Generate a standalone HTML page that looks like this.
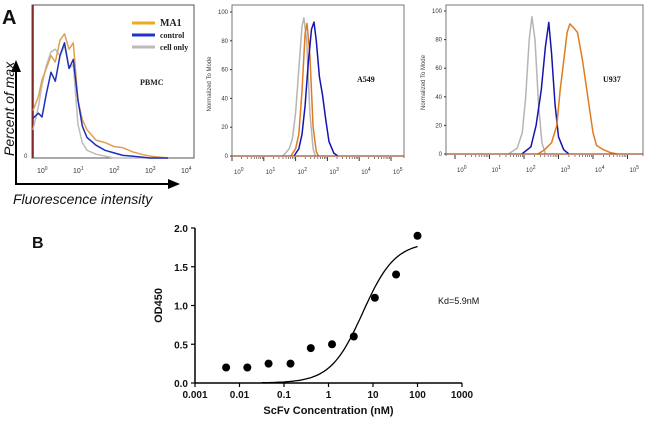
<!DOCTYPE html>
<html><head><meta charset="utf-8">
<style>
html,body{margin:0;padding:0;background:#fff;}
svg{display:block;font-family:"Liberation Sans",sans-serif;}
</style></head>
<body>
<svg id="fig" width="650" height="422" viewBox="0 0 650 422">
</svg>
<script>
// ---- Panel A data: PBMC (log10 intensity grid, percent of max) ----
const pbmcLogs = [-0.25,-0.1,0,0.12,0.25,0.37,0.5,0.625,0.75,0.87,1.0,1.12,1.25,1.5,1.75,2.0,2.25,2.5,2.75,3.0,3.5];
const pbmcMA1 = [37,48,61,70,80,75,92,97,85,90,45,30,22,14,12,9,8,5,3,1.5,0];
const pbmcControl = [31,35,32,50,67,60,80,90,70,77,45,25,16,10,6,4,2,1.5,0.8,0,0];
const pbmcCellOnly = [22,40,57,72,83,85,80,88,70,73,26,12,6,3,1.5,0,0,0,0,0,0];
// ---- A549 ----
const a549GrayLogs = [1.6,1.8,1.9,2.0,2.1,2.2,2.26,2.35,2.45,2.55,2.62];
const a549Gray = [0,5,12,30,60,90,96,80,30,5,0];
const a549OrangeLogs = [1.85,2.0,2.1,2.2,2.3,2.36,2.45,2.55,2.65,2.72];
const a549Orange = [0,5,15,45,85,92,70,20,3,0];
const a549BlueLogs = [1.95,2.1,2.2,2.3,2.4,2.5,2.58,2.65,2.75,2.85,2.95,3.05,3.2,3.33];
const a549Blue = [0,5,15,35,65,88,93,80,55,42,25,10,2,0];
// ---- U937 ----
const u937GrayLogs = [1.55,1.8,1.95,2.05,2.15,2.23,2.32,2.42,2.52,2.62];
const u937Gray = [0,4,15,40,80,96,80,35,8,0];
const u937BlueLogs = [1.94,2.2,2.35,2.5,2.62,2.72,2.8,2.9,3.0,3.15,3.3];
const u937Blue = [0,5,20,45,75,92,70,35,12,3,0];
const u937OrangeLogs = [2.4,2.6,2.8,2.95,3.05,3.15,3.25,3.33,3.45,3.55,3.7,3.85,4.0,4.1,4.3,4.5,4.7];
const u937Orange = [0,3,8,20,45,65,85,91,88,85,65,40,15,6,3,1,0];
const facsTickExps = [0,1,2,3,4,5];
const normTicks = [0,20,40,60,80,100];
// ---- Panel B data ----
const concNM = [0.005,0.015,0.045,0.14,0.4,1.2,3.7,11,33,100];
const od450 = [0.2,0.2,0.25,0.25,0.45,0.5,0.6,1.1,1.4,1.9];
const odTicks = [0.0,0.5,1.0,1.5,2.0];
const concTickLabels = ["0.001","0.01","0.1","1","10","100","1000"];
const kdNM = 5.9, bmax = 1.82, hill = 1.2;

const NS="http://www.w3.org/2000/svg";
const svg=document.getElementById('fig');
function el(tag,attrs,parent,text){const e=document.createElementNS(NS,tag);for(const k in attrs)e.setAttribute(k,attrs[k]);if(text!==undefined)e.textContent=text;(parent||svg).appendChild(e);return e;}

function drawSeries(logs,vals,sx,sy,color,name,g){
  const pts=logs.map((l,i)=>sx(l).toFixed(1)+','+sy(vals[i]).toFixed(1)).join(' ');
  const p=el('polyline',{points:pts,fill:'none',stroke:color,'stroke-width':1.5,'stroke-linejoin':'round'},g);
  
  
}

// ===== PBMC panel =====
(function(){
  const g=el('g',{});
  const sx=l=>42+l*36, sy=v=>158-v*1.28;
  el('rect',{x:32,y:5,width:162,height:153,fill:'none',stroke:'#555','stroke-width':1},g);
  el('line',{x1:33,y1:5,x2:33,y2:158,stroke:'#8b1a1a','stroke-width':1.5},g);
  el('text',{x:24,y:158,'font-size':6,fill:'#333'},g,'0');
  [0,1,2,3,4].forEach(e=>{const t=el('text',{x:sx(e)-5,y:173,'font-size':7,fill:'#333'},g,'10');el('tspan',{dy:-3,'font-size':5},t,String(e));});
  drawSeries(pbmcLogs,pbmcCellOnly,sx,sy,'#bdbdbd','cell-only-curve',g);
  drawSeries(pbmcLogs,pbmcMA1,sx,sy,'#e0a050','ma1-curve',g);
  drawSeries(pbmcLogs,pbmcControl,sx,sy,'#1f2fb8','control-curve',g);
  const leg=[['#f2a81e','MA1',24],['#2233cc','control',36],['#bbbbbb','cell only',48]];
  leg.forEach(([c,t,y])=>{el('line',{x1:132,y1:y-1,x2:155,y2:y-1,stroke:c,'stroke-width':3},g);const tx=el('text',{x:160,y:y+2,'font-size':t==='MA1'?10:8,'font-weight':'bold','font-family':'Liberation Serif,serif',fill:'#222'},g,t);});
  el('text',{x:140,y:85,'font-size':8,'font-weight':'bold','font-family':'Liberation Serif,serif',fill:'#222'},g,'PBMC');
  el('line',{x1:16,y1:184,x2:16,y2:70,stroke:'#000','stroke-width':2},g);
  el('polygon',{points:'16,60 11,72 21,72',fill:'#000'},g);
  el('line',{x1:15,y1:184,x2:170,y2:184,stroke:'#000','stroke-width':2},g);
  el('polygon',{points:'180,184 168,179 168,189',fill:'#000'},g);
  const yl=el('text',{x:0,y:0,'font-size':14,'font-style':'italic',fill:'#111',transform:'translate(14,156) rotate(-90)'},g,'Percent of max');
  const xl=el('text',{x:13,y:204,'font-size':14,'font-style':'italic',fill:'#111'},g,'Fluorescence intensity');
  el('text',{x:2,y:24,'font-size':20,'font-weight':'bold',fill:'#111'},g,'A');
})();

function facsPanel(name,x0,x1,y0,y100,dec,zeroX,label,lx,series){
  const g=el('g',{});
  const sx=l=>zeroX+l*dec, sy=v=>y0-(v/100)*(y0-y100);
  el('polyline',{points:`${x0},${y0+2} ${x0},5 ${x1},5 ${x1},${y0+2}`,fill:'none',stroke:'#777','stroke-width':1},g);
  normTicks.forEach(v=>{el('text',{x:x0-4,y:sy(v)+2,'font-size':6,'text-anchor':'end',fill:'#333'},g,String(v));el('line',{x1:x0-2,y1:sy(v),x2:x0,y2:sy(v),stroke:'#333'},g);});
  el('text',{x:0,y:0,'font-size':6,fill:'#444','text-anchor':'middle',transform:`translate(${x0-21},${(y0+y100)/2}) rotate(-90)`},g,'Normalized To Mode');
  facsTickExps.forEach(e=>{const x=sx(e);el('line',{x1:x,y1:y0+1,x2:x,y2:y0+5,stroke:'#333'},g);
    for(let k=2;k<10&&e<5;k++){const xm=sx(e+Math.log10(k));el('line',{x1:xm,y1:y0+1,x2:xm,y2:y0+3,stroke:'#333','stroke-width':0.6},g);}
    const t=el('text',{x:x+2,y:y0+18,'font-size':6,fill:'#333'},g,'10');el('tspan',{dy:-3,'font-size':5},t,String(e));});
  series.forEach(s=>drawSeries(s[0],s[1],sx,sy,s[2],s[3],g));
  el('line',{x1:x0,y1:y0,x2:x1,y2:y0,stroke:'#a0522d','stroke-width':1.2},g);
  el('text',{x:lx,y:82,'font-size':8,'font-weight':'bold','font-family':'Liberation Serif,serif',fill:'#111'},g,label);
}
facsPanel('a549-panel',232,404,156,12,31.8,232,'A549',357,[
  [a549GrayLogs,a549Gray,'#b5b5b5','a549-cell-only-curve'],
  [a549OrangeLogs,a549Orange,'#e07b20','a549-ma1-curve'],
  [a549BlueLogs,a549Blue,'#1414b0','a549-control-curve']]);
facsPanel('u937-panel',446,643,154,11,34.5,455,'U937',603,[
  [u937GrayLogs,u937Gray,'#b5b5b5','u937-cell-only-curve'],
  [u937BlueLogs,u937Blue,'#1414b0','u937-control-curve'],
  [u937OrangeLogs,u937Orange,'#e07b20','u937-ma1-curve']]);

// ===== Panel B =====
(function(){
  const g=el('g',{});
  const xL=195,xR=462,yB=383,yT=228;
  const sx=c=>xL+(Math.log10(c)+3)/6*(xR-xL), sy=v=>yB-v/2*(yB-yT);
  el('text',{x:32,y:248,'font-size':16,'font-weight':'bold',fill:'#111'},g,'B');
  el('line',{x1:xL,y1:yB,x2:xL,y2:yT,stroke:'#000','stroke-width':1.5},g);
  el('line',{x1:xL,y1:yB,x2:xR,y2:yB,stroke:'#000','stroke-width':1.5},g);
  odTicks.forEach(v=>{el('line',{x1:xL-4,y1:sy(v),x2:xL,y2:sy(v),stroke:'#000','stroke-width':1.2},g);
    el('text',{x:xL-7,y:sy(v)+4,'font-size':10,'font-weight':'bold','text-anchor':'end',fill:'#111'},g,v.toFixed(1));});
  concTickLabels.forEach((t,i)=>{const x=xL+i*(xR-xL)/6;el('line',{x1:x,y1:yB,x2:x,y2:yB+4,stroke:'#000','stroke-width':1.2},g);
    el('text',{x:x,y:yB+15,'font-size':10,'font-weight':'bold','text-anchor':'middle',fill:'#111'},g,t);});
  const yt=el('text',{x:0,y:0,'font-size':11,'font-weight':'bold','text-anchor':'middle',fill:'#111',transform:`translate(162,${(yB+yT)/2}) rotate(-90)`},g,'OD450');
  
  const xt=el('text',{x:(xL+xR)/2,y:414,'font-size':11,'font-weight':'bold','text-anchor':'middle',fill:'#111'},g,'ScFv Concentration (nM)');
  
  let pts=[];for(let l=-1.5;l<=2.001;l+=0.05){const c=Math.pow(10,l);pts.push(sx(c).toFixed(1)+','+sy(bmax*Math.pow(c,hill)/(Math.pow(kdNM,hill)+Math.pow(c,hill))).toFixed(1));}
  const fit=el('polyline',{points:pts.join(' '),fill:'none',stroke:'#000','stroke-width':1.3},g);
  
  concNM.forEach((c,i)=>{const d=el('circle',{cx:sx(c),cy:sy(od450[i]),r:4,fill:'#000'},g);
    
    });
  el('text',{x:438,y:304,'font-size':9,fill:'#111'},g,'Kd=5.9nM');
})();
</script>
</body></html>
